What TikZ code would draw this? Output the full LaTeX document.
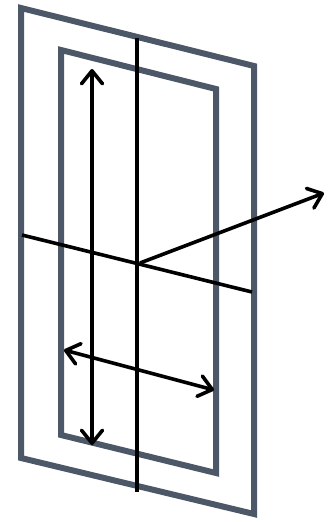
\documentclass[tikz,border=0pt]{standalone}
\usetikzlibrary{arrows.meta}
\definecolor{frame}{RGB}{76,87,104}
\begin{document}
\begin{tikzpicture}[x=1pt,y=-1pt,
  frm/.style={draw=frame,line width=6pt,line join=miter},
  axisline/.style={draw=black,line width=3.6pt},
  tip/.style={},
  arr/.style={axisline,{Straight Barb[length=13pt,width=21pt,line cap=round,line join=round]}-{Straight Barb[length=13pt,width=21pt,line cap=round,line join=round]}},
  arrone/.style={axisline,-{Straight Barb[length=13pt,width=21pt,line cap=round,line join=round]}}]
\useasboundingbox (0,0) rectangle (328,522);
% outer frame
\coordinate (o1) at (21,8);
\coordinate (o2) at (254,66);
\coordinate (o3) at (254,514);
\coordinate (o4) at (21,458);
% inner frame
\coordinate (i1) at (61,50);
\coordinate (i2) at (216,89);
\coordinate (i3) at (216,473);
\coordinate (i4) at (61,435);
\draw[frm] (o1) -- (o2) -- (o3) -- (o4) -- cycle;
\draw[frm] (i1) -- (i2) -- (i3) -- (i4) -- cycle;
% axes
\coordinate (vt) at (137,38);
\coordinate (vb) at (137,492);
\coordinate (hl) at (22,235);
\coordinate (hr) at (252,292);
\coordinate (c) at (140,263);
\coordinate (n) at (324,193);
\draw[axisline] (vt) -- (vb);
\draw[axisline] (hl) -- (hr);
\draw[arrone] (c) -- (n);
% double arrows
\coordinate (at) at (92,69);
\coordinate (ab) at (92,445);
\coordinate (al) at (64,350);
\coordinate (ar) at (214,390);
\draw[arr] (at) -- (ab);
\draw[arr] (al) -- (ar);
\end{tikzpicture}
\end{document}
